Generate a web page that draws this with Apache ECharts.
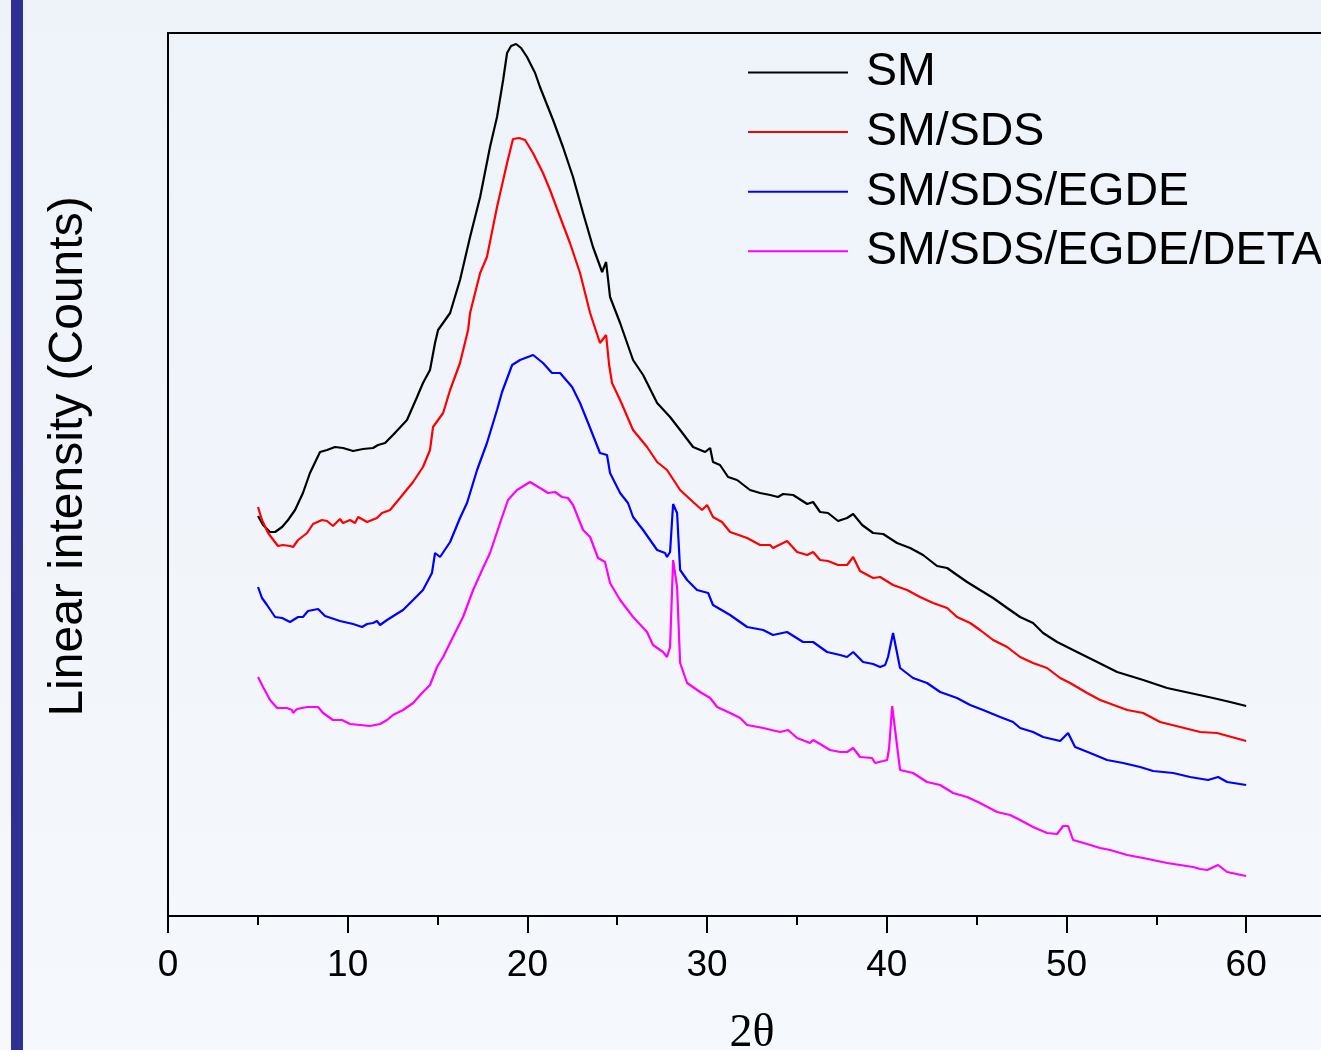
<!DOCTYPE html>
<html>
<head>
<meta charset="utf-8">
<title>XRD</title>
<script src="https://cdn.jsdelivr.net/npm/echarts/dist/echarts.min.js"></script>
<style>
	html, body { margin: 0; padding: 0; background: #f1f5fb; }
	#chart { width: 1321px; height: 1050px; }
</style>
</head>
<body>
<div id="chart"></div>
<script>
// [2theta, counts]
var smData = [
	[5.01, 400], [5.29, 391], [5.68, 384], [5.96, 384], [6.35, 389], [6.68, 396], [7.07, 406], [7.51, 423],
	[7.90, 443], [8.46, 464], [8.85, 466], [9.29, 469], [9.74, 468], [10.30, 465], [10.85, 467], [11.41, 468],
	[11.69, 471], [12.08, 473], [12.52, 481], [13.30, 496], [13.86, 519], [14.19, 533], [14.58, 546], [14.86, 573],
	[15.03, 586], [15.70, 603], [16.25, 636], [16.81, 679], [17.37, 719], [17.92, 769], [18.31, 799], [18.65, 836],
	[18.87, 863], [19.09, 870], [19.37, 872], [19.65, 868], [19.98, 859], [20.43, 843], [20.70, 829], [21.43, 796],
	[21.98, 769], [22.54, 739], [23.10, 703], [23.65, 669], [24.16, 644], [24.38, 654], [24.60, 619], [25.16, 593],
	[25.88, 556], [26.44, 541], [27.22, 513], [27.94, 499], [28.50, 486], [29.22, 469], [29.89, 464], [30.17, 468],
	[30.33, 454], [30.72, 451], [31.17, 439], [31.67, 436], [32.39, 426], [32.95, 423], [33.51, 421], [33.95, 419],
	[34.23, 422], [34.79, 421], [35.57, 412], [35.90, 414], [36.29, 404], [36.73, 403], [37.29, 395], [37.79, 398],
	[38.13, 402], [38.63, 391], [39.24, 383], [39.80, 382], [40.57, 373], [41.30, 368], [42.02, 361], [42.80, 350],
	[43.36, 348], [43.91, 341], [44.47, 334], [45.19, 326], [45.92, 318], [46.70, 308], [47.42, 299], [48.14, 293],
	[48.70, 283], [49.48, 274], [50.59, 264], [51.71, 254], [52.82, 244], [54.27, 236], [55.60, 228], [56.88, 223],
	[58.16, 218], [59.11, 214], [60.00, 210]
];
var smSdsData = [
	[5.01, 409], [5.23, 396], [5.57, 383], [6.12, 370], [6.40, 371], [6.79, 370], [6.96, 369], [7.24, 376],
	[7.74, 383], [8.07, 392], [8.57, 396], [8.85, 395], [9.18, 390], [9.57, 397], [9.74, 393], [10.13, 396],
	[10.41, 393], [10.58, 399], [11.08, 394], [11.63, 398], [11.91, 403], [12.36, 406], [12.91, 418], [13.64, 434],
	[14.19, 449], [14.58, 466], [14.75, 489], [15.31, 503], [15.70, 526], [16.25, 553], [16.70, 586], [16.81, 603],
	[17.37, 643], [17.75, 659], [18.31, 709], [18.87, 753], [19.20, 777], [19.54, 778], [19.87, 776], [20.31, 763],
	[20.87, 743], [21.26, 726], [21.82, 699], [22.37, 673], [22.93, 643], [23.49, 603], [24.04, 573], [24.38, 581],
	[24.55, 551], [24.71, 533], [25.16, 516], [25.88, 486], [26.66, 469], [27.22, 454], [27.77, 446], [28.50, 426],
	[29.22, 414], [29.72, 406], [30.00, 411], [30.33, 399], [30.83, 394], [31.28, 384], [32.23, 378], [32.95, 371],
	[33.51, 371], [33.67, 368], [34.45, 375], [35.01, 364], [35.57, 361], [35.90, 364], [36.29, 356], [36.73, 355],
	[37.29, 351], [37.79, 351], [38.13, 359], [38.51, 345], [39.24, 338], [39.63, 339], [40.35, 331], [41.13, 326],
	[41.85, 319], [42.58, 313], [43.36, 308], [43.91, 299], [44.64, 293], [45.19, 286], [45.92, 276], [46.70, 269],
	[47.42, 259], [48.14, 253], [48.92, 248], [49.65, 238], [50.20, 233], [51.15, 223], [51.87, 216], [53.38, 206],
	[54.27, 203], [55.21, 194], [56.33, 189], [57.44, 184], [58.38, 183], [60.00, 175]
];
var smSdsEgdeData = [
	[5.01, 329], [5.23, 318], [5.51, 311], [5.96, 299], [6.35, 298], [6.79, 294], [7.24, 299], [7.51, 299],
	[7.79, 305], [8.35, 307], [8.74, 300], [9.57, 295], [10.30, 292], [10.80, 289], [11.08, 292], [11.41, 293],
	[11.63, 295], [11.80, 291], [12.19, 296], [12.63, 301], [13.08, 306], [13.64, 316], [14.19, 326], [14.69, 343],
	[14.86, 363], [15.14, 359], [15.70, 374], [16.25, 398], [16.64, 413], [17.20, 446], [17.75, 473], [18.31, 506],
	[18.59, 524], [19.15, 551], [19.59, 556], [20.32, 561], [20.87, 553], [21.37, 543], [21.82, 543], [22.49, 529],
	[22.93, 513], [23.38, 493], [24.04, 463], [24.43, 461], [24.60, 443], [25.16, 423], [25.60, 413], [25.88, 399],
	[26.44, 386], [26.83, 376], [27.22, 366], [27.66, 363], [27.77, 359], [27.94, 364], [28.11, 412], [28.33, 403],
	[28.50, 346], [28.89, 336], [29.44, 326], [30.06, 323], [30.33, 311], [31.28, 301], [32.23, 289], [33.12, 286],
	[33.67, 281], [34.45, 284], [35.34, 274], [35.90, 274], [36.68, 264], [37.40, 261], [37.79, 259], [38.13, 264],
	[38.68, 254], [39.24, 252], [39.63, 249], [39.91, 251], [40.07, 259], [40.35, 283], [40.74, 248], [41.46, 238],
	[42.24, 233], [42.97, 224], [43.91, 218], [44.64, 211], [45.36, 206], [46.31, 199], [47.03, 194], [47.42, 188],
	[48.14, 184], [48.70, 179], [49.65, 175], [50.09, 183], [50.48, 169], [51.32, 163], [52.26, 156], [53.15, 153],
	[54.10, 149], [54.82, 145], [55.94, 143], [56.88, 139], [57.88, 136], [58.44, 139], [58.94, 134], [60.00, 131]
];
var smSdsEgdeDetaData = [
	[5.01, 239], [5.29, 229], [5.68, 216], [6.07, 208], [6.62, 208], [6.90, 206], [6.96, 203], [7.18, 207],
	[7.74, 209], [8.35, 209], [8.63, 203], [9.18, 196], [9.68, 196], [10.13, 192], [10.69, 191], [11.24, 190],
	[11.80, 192], [12.19, 196], [12.52, 201], [13.08, 206], [13.64, 213], [14.14, 223], [14.58, 231], [14.97, 249],
	[15.31, 259], [15.86, 279], [16.42, 299], [16.98, 326], [17.53, 348], [17.92, 363], [18.48, 393], [18.92, 416],
	[19.42, 426], [20.15, 434], [20.70, 428], [21.15, 423], [21.54, 424], [21.93, 419], [22.26, 418], [22.54, 411],
	[23.10, 386], [23.49, 379], [23.93, 358], [24.32, 354], [24.60, 333], [25.16, 316], [25.88, 299], [26.66, 284],
	[26.99, 271], [27.55, 264], [27.77, 259], [27.94, 269], [28.11, 356], [28.33, 329], [28.50, 253], [28.89, 233],
	[29.61, 224], [30.17, 218], [30.56, 209], [31.28, 203], [31.84, 198], [32.23, 191], [33.12, 188], [34.06, 184],
	[34.51, 186], [35.01, 178], [35.73, 173], [35.90, 176], [36.29, 172], [36.84, 166], [37.40, 164], [37.79, 164],
	[38.13, 168], [38.51, 159], [39.18, 158], [39.35, 153], [39.80, 155], [40.02, 156], [40.13, 168], [40.30, 210],
	[40.74, 146], [41.46, 143], [42.24, 134], [42.97, 131], [43.69, 123], [44.47, 119], [45.19, 113], [46.14, 104],
	[46.86, 101], [47.42, 96], [48.14, 89], [48.92, 83], [49.48, 82], [49.81, 90], [50.09, 90], [50.37, 76],
	[51.15, 72], [51.87, 68], [52.43, 66], [53.38, 61], [54.27, 58], [55.60, 53], [57.05, 49], [57.44, 47],
	[57.83, 46], [58.44, 51], [58.94, 44], [60.00, 40]
];

var seriesNames = ['SM', 'SM/SDS', 'SM/SDS/EGDE', 'SM/SDS/EGDE/DETA'];
var seriesColors = ['#000000', '#ff0000', '#0000ff', '#ff00ff'];
var seriesData = [smData, smSdsData, smSdsEgdeData, smSdsEgdeDetaData];

var sansFont = "'Liberation Sans', Arial, Helvetica, sans-serif";
var serifFont = "'Liberation Serif', 'Times New Roman', serif";

var option = {
	backgroundColor : {
		type : 'linear', x : 0, y : 0, x2 : 0, y2 : 1,
		colorStops : [ { offset : 0, color : '#eef3fa' }, { offset : 1, color : '#f5f8fc' } ]
	},
	animation : false,
	graphic : [ {
		type : 'rect',
		shape : { x : 11, y : 0, width : 12, height : 1050 },
		style : { fill : '#2e3192' }
	} ],
	grid : {
		left : 168,
		top : 33,
		right : -15,
		bottom : 134,
		containLabel : false,
		outerBoundsMode : 'none'
	},
	legend : {
		orient : 'vertical',
		left : 743,
		top : 44,
		icon : 'rect',
		itemWidth : 100,
		itemHeight : 2,
		itemGap : 12.6,
		itemStyle : { borderWidth : 0 },
		textStyle : {
			fontFamily : sansFont,
			fontSize : 46.5,
			color : '#000',
			padding : [ 0, 0, 0, 13 ]
		},
		data : seriesNames
	},
	xAxis : [ {
		type : 'value',
		position : 'bottom',
		min : 0,
		max : 65,
		interval : 10,
		name : '2θ',
		nameLocation : 'middle',
		nameGap : 95,
		nameTextStyle : {
			fontFamily : serifFont,
			fontSize : 46,
			color : '#000'
		},
		axisLine : { lineStyle : { color : '#000', width : 2 } },
		axisTick : { length : 17, lineStyle : { color : '#000', width : 2 } },
		axisLabel : {
			margin : 31,
			fontFamily : sansFont,
			fontSize : 37,
			color : '#000',
			formatter : function(v) {
				return v > 60 ? '' : v;
			}
		},
		splitLine : { show : false }
	}, {
		type : 'value',
		position : 'bottom',
		min : 0,
		max : 65,
		interval : 5,
		axisLine : { show : false },
		axisTick : { length : 9, lineStyle : { color : '#000', width : 2 } },
		axisLabel : { show : false },
		splitLine : { show : false }
	}, {
		type : 'value',
		position : 'top',
		min : 0,
		max : 65,
		axisLine : { lineStyle : { color : '#000', width : 2 } },
		axisTick : { show : false },
		axisLabel : { show : false },
		splitLine : { show : false }
	} ],
	yAxis : {
		type : 'value',
		min : 0,
		max : 883,
		name : 'Linear intensity (Counts)',
		nameLocation : 'middle',
		nameRotate : 90,
		nameGap : 75,
		nameTextStyle : {
			fontFamily : sansFont,
			fontSize : 48,
			color : '#000',
			padding : [ 0, 0, 0, 36 ]
		},
		axisLine : { show : true, lineStyle : { color : '#000', width : 2 } },
		axisTick : { show : false },
		axisLabel : { show : false },
		splitLine : { show : false }
	},
	series : []
};

seriesNames.forEach(function(name, i) {
	option.series.push({
		name : name,
		type : 'line',
		xAxisIndex : 0,
		symbol : 'none',
		color : seriesColors[i],
		lineStyle : { color : seriesColors[i], width : 2.2 },
		data : seriesData[i]
	});
});

var chart = echarts.init(document.getElementById('chart'));
chart.setOption(option);
</script>
</body>
</html>
